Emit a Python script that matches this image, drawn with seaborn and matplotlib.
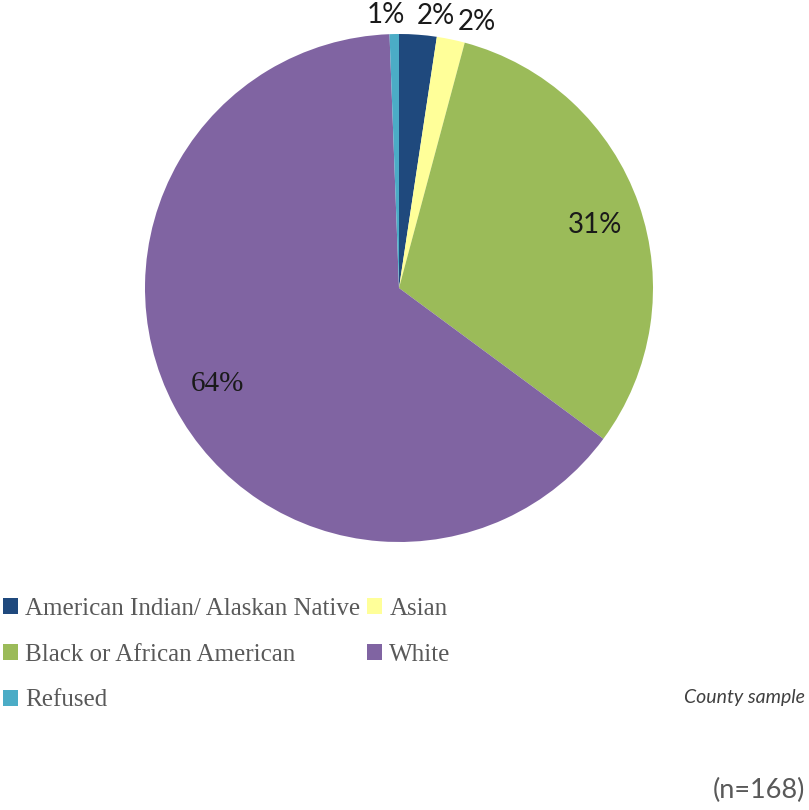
import numpy as np
import matplotlib
matplotlib.use("Agg")
import matplotlib.pyplot as plt
import seaborn as sns

# Data (county sample, n=168)
categories = ["American Indian/ Alaskan Native", "Asian", "Black or African American", "White", "Refused"]
counts = [4, 3, 52, 108, 1]
colors = ["#1F497D", "#FFFF99", "#9BBB59", "#8064A2", "#4BACC6"]
sample_note = "County sample"
n_note = "(n=168)"

sns.set_theme(style="white")
plt.rcParams["font.family"] = ["Lato", "DejaVu Sans"]

fig = plt.figure(figsize=(8.09, 8.10), dpi=100)
ax = fig.add_axes([145 / 809, 1 - 542 / 810, 508 / 809, 508 / 810])

wedges, texts, autotexts = ax.pie(
    counts,
    colors=sns.color_palette(colors),
    startangle=90,
    counterclock=False,
    autopct="%1.0f%%",
    pctdistance=0.81,
    wedgeprops={"linewidth": 0},
    textprops={"fontsize": 20, "color": "#1a1a1a"},
)
ax.set_aspect("equal")
ax.set_xlim(-1, 1)
ax.set_ylim(-1, 1)

# small slices get their labels outside the pie, spread a little apart
outside = {0: (-3.5, 1.08), 1: (-4.6, 1.09), 4: (1.6, 1.075)}
for i, w in enumerate(wedges):
    mid = (w.theta1 + w.theta2) / 2
    if i in outside:
        dang, r = outside[i]
        a = np.deg2rad(mid + dang)
        autotexts[i].set_position((r * np.cos(a), r * np.sin(a)))
    elif i == 2:
        a = np.deg2rad(mid - 1.5)
        autotexts[i].set_position((0.81 * np.cos(a), 0.81 * np.sin(a)))
# the White label uses a serif face in the original
autotexts[3].set_fontfamily(["Liberation Serif", "DejaVu Serif"])
autotexts[3].set_fontsize(21)

# legend fills row by row: AI, Asian / Black, White / Refused
order = [0, 2, 4, 1, 3]
leg = fig.legend(
    [wedges[i] for i in order],
    [categories[i] for i in order],
    loc="upper left",
    bbox_to_anchor=(3 / 809, 1 - 598 / 810),
    ncol=2,
    frameon=False,
    borderaxespad=0,
    borderpad=0,
    handlelength=0.6,
    handleheight=0.6,
    handletextpad=0.3,
    columnspacing=0.25,
    labelspacing=0.95,
    prop={"family": ["Liberation Serif", "DejaVu Serif"], "size": 18},
)
for t in leg.get_texts():
    t.set_color("#595959")

fig.text(805 / 809, 1 - 697 / 810, sample_note, ha="right", va="center",
         fontsize=14, style="italic", color="#404040")
fig.text(805 / 809, 1 - 790 / 810, n_note, ha="right", va="center",
         fontsize=19.5, color="#595959")

fig.savefig("out.png", dpi=100)
